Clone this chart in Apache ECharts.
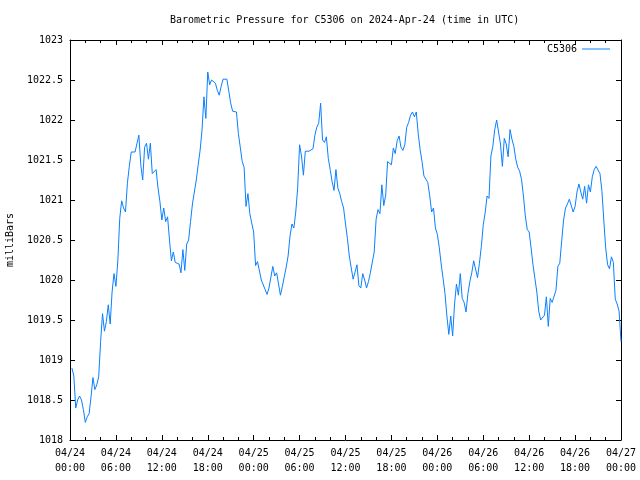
<!DOCTYPE html>
<html><head><meta charset="utf-8">
<script src="https://cdn.jsdelivr.net/npm/echarts@6/dist/echarts.min.js"></script>
<style>html,body{margin:0;padding:0;background:#fff}#c{width:640px;height:480px}</style>
</head><body><div id="c"></div>
<script>
const chartTitle = 'Barometric Pressure for C5306 on 2024-Apr-24 (time in UTC)';
const stationName = 'C5306';
const yAxisName = 'milliBars';
const startMonth = '04';
const startDay = 24;
// 15-minute samples starting at 00:15 UTC on 04/24
const firstSampleHour = 0.25;
const sampleStepHours = 0.25;
const pressure = [
  1018.90, 1018.80, 1018.40, 1018.50, 1018.55, 1018.50, 1018.38, 1018.22, 1018.29, 1018.33, 1018.54, 1018.78,
  1018.63, 1018.69, 1018.79, 1019.23, 1019.58, 1019.36, 1019.48, 1019.69, 1019.45, 1019.85, 1020.08, 1019.92,
  1020.24, 1020.77, 1020.99, 1020.90, 1020.85, 1021.21, 1021.42, 1021.60, 1021.60, 1021.60, 1021.60, 1021.81,
  1021.44, 1021.25, 1021.66, 1021.71, 1021.51, 1021.71, 1021.33, 1021.31, 1021.38, 1021.15, 1020.98, 1020.75,
  1020.90, 1020.73, 1020.79, 1020.50, 1020.24, 1020.35, 1020.22, 1020.20, 1020.20, 1020.09, 1020.38, 1020.12,
  1020.45, 1020.50, 1020.73, 1020.95, 1021.10, 1021.25, 1021.44, 1021.62, 1021.87, 1022.29, 1022.02, 1022.60,
  1022.44, 1022.50, 1022.51, 1022.46, 1022.37, 1022.31, 1022.42, 1022.51, 1022.51, 1022.51, 1022.51, 1022.21,
  1022.11, 1022.10, 1022.10, 1021.83, 1021.66, 1021.48, 1021.41, 1020.92, 1021.08, 1020.83, 1020.71, 1020.60,
  1020.18, 1020.23, 1020.21, 1020.00, 1020.00, 1019.88, 1019.82, 1019.90, 1019.90, 1020.17, 1020.05, 1020.09,
  1019.95, 1019.81, 1019.92, 1020.04, 1020.16, 1020.30, 1020.55, 1020.70, 1020.65, 1020.85, 1021.15, 1021.69,
  1021.55, 1021.31, 1021.61, 1021.61, 1021.61, 1021.61, 1021.64, 1021.81, 1021.91, 1021.96, 1022.21, 1021.75,
  1021.72, 1021.79, 1021.52, 1021.38, 1021.23, 1021.12, 1021.38, 1021.15, 1021.08, 1020.98, 1020.90, 1020.70,
  1020.52, 1020.30, 1020.15, 1020.01, 1020.02, 1020.19, 1019.93, 1019.90, 1020.08, 1020.00, 1019.90, 1019.98,
  1020.09, 1020.09, 1020.35, 1020.76, 1020.88, 1020.83, 1021.19, 1020.93, 1021.06, 1021.48, 1021.47, 1021.44,
  1021.65, 1021.58, 1021.74, 1021.80, 1021.66, 1021.62, 1021.69, 1021.91, 1021.97, 1022.06, 1022.10, 1022.04,
  1022.10, 1021.83, 1021.63, 1021.48, 1021.30, 1021.26, 1021.22, 1021.06, 1020.85, 1020.90, 1020.65, 1020.57,
  1020.41, 1020.20, 1020.02, 1019.83, 1019.55, 1019.32, 1019.55, 1019.30, 1019.70, 1019.95, 1019.81, 1020.08,
  1019.77, 1019.72, 1019.60, 1019.83, 1019.98, 1020.09, 1020.24, 1020.25, 1020.03, 1020.21, 1020.42, 1020.69,
  1020.84, 1021.05, 1021.02, 1021.55, 1021.67, 1021.88, 1022.00, 1021.85, 1021.70, 1021.42, 1021.77, 1021.70,
  1021.54, 1021.88, 1021.76, 1021.67, 1021.51, 1021.41, 1021.36, 1021.26, 1021.05, 1020.80, 1020.63, 1020.60,
  1020.40, 1020.19, 1020.02, 1019.85, 1019.61, 1019.50, 1019.50, 1019.56, 1019.79, 1019.42, 1019.77, 1019.72,
  1019.70, 1019.87, 1020.17, 1020.21, 1020.49, 1020.75, 1020.90, 1020.95, 1021.01, 1021.03, 1020.85, 1020.92,
  1021.10, 1021.20, 1021.10, 1021.01, 1021.17, 1020.96, 1021.19, 1021.10, 1021.29, 1021.38, 1021.42, 1021.42,
  1021.33, 1021.12, 1020.75, 1020.40, 1020.19, 1020.14, 1020.29, 1020.22, 1019.76, 1019.70, 1019.61, 1019.23
];
const yMin = 1018, yMax = 1023, yStep = 0.5;
const xMinHours = 0, xMaxHours = 72, xStepHours = 6, xMinorSplit = 3;

const points = pressure.map((v, i) => [firstSampleHour + i * sampleStepHours, v]);
const FONT = 'DejaVu Sans Mono';
const LINE_COLOR = '#0a80ff';

function timeLabel(h) {
  const day = startDay + Math.floor(h / 24);
  const hh = Math.round(h % 24);
  return startMonth + '/' + String(day).padStart(2, '0') + '\n' + String(hh).padStart(2, '0') + ':00';
}

const xBase = {
  type: 'value', min: xMinHours, max: xMaxHours, interval: xStepHours,
  axisLine: { show: true, onZero: false, lineStyle: { color: '#000', width: 1 } },
  axisTick: { show: true, inside: true, length: 5, lineStyle: { color: '#000' } },
  minorTick: { show: true, splitNumber: xMinorSplit, length: 3, lineStyle: { color: '#000' } },
  splitLine: { show: false }
};
const yBase = {
  type: 'value', min: yMin, max: yMax, interval: yStep,
  axisLine: { show: true, onZero: false, lineStyle: { color: '#000', width: 1 } },
  axisTick: { show: true, inside: true, length: 5, lineStyle: { color: '#000' } },
  splitLine: { show: false }
};

const chart = echarts.init(document.getElementById('c'), null, { renderer: 'canvas' });
chart.setOption({
  animation: false,
  backgroundColor: '#fff',
  title: {
    text: chartTitle, left: 165, top: 10,
    textStyle: { fontFamily: FONT, fontSize: 10, fontWeight: 'normal', color: '#000' }
  },
  legend: {
    data: [stationName], right: 25, top: 39, align: 'right',
    icon: 'rect', itemWidth: 28, itemHeight: 1,
    textStyle: { fontFamily: FONT, fontSize: 10, color: '#000' }
  },
  grid: { left: 70, right: 19, top: 40, bottom: 40, containLabel: false, outerBoundsMode: 'none' },
  xAxis: [
    Object.assign({}, xBase, {
      position: 'bottom',
      axisLabel: { show: true, margin: 6, formatter: timeLabel, fontFamily: FONT, fontSize: 10, color: '#000', lineHeight: 15 }
    }),
    Object.assign({}, xBase, { position: 'top', axisLabel: { show: false } })
  ],
  yAxis: [
    Object.assign({}, yBase, {
      position: 'left',
      name: yAxisName, nameLocation: 'middle', nameGap: 55, nameRotate: 90,
      nameTextStyle: { fontFamily: FONT, fontSize: 10, color: '#000' },
      axisLabel: { show: true, margin: 7, formatter: v => String(v), fontFamily: FONT, fontSize: 10, color: '#000' }
    }),
    Object.assign({}, yBase, { position: 'right', axisLabel: { show: false } })
  ],
  series: [{
    name: stationName, type: 'line', xAxisIndex: 0, yAxisIndex: 0,
    data: points, showSymbol: false, symbol: 'none',
    lineStyle: { color: LINE_COLOR, width: 1 }, itemStyle: { color: LINE_COLOR }
  }]
});
</script></body></html>
